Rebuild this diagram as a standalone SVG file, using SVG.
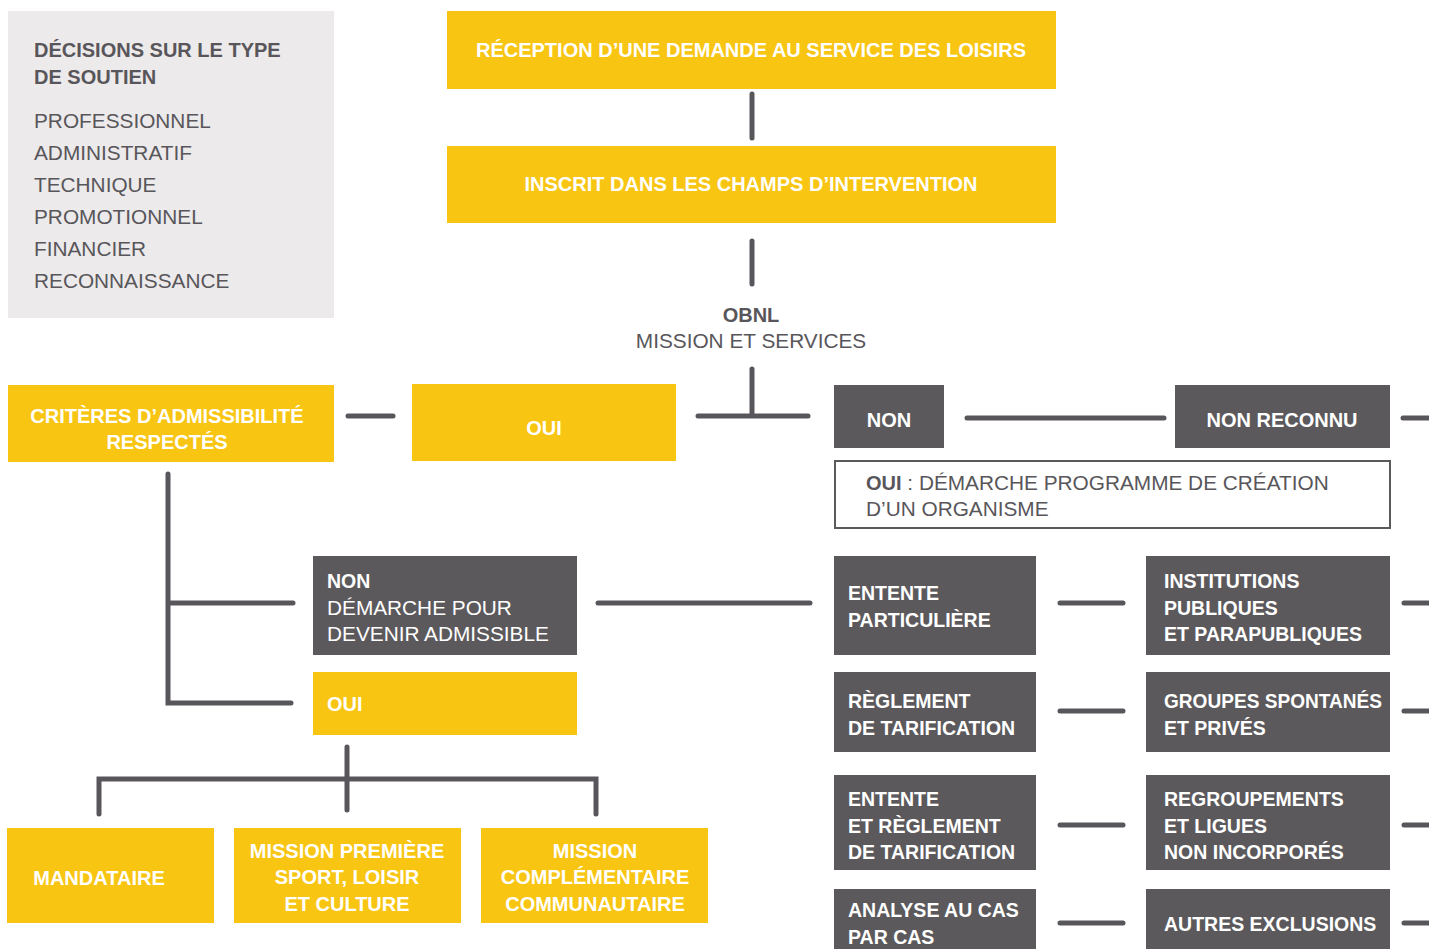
<svg xmlns="http://www.w3.org/2000/svg" width="1429" height="949" viewBox="0 0 1429 949">
<style>
text{font-family:"Liberation Sans",Arial,sans-serif;font-size:20.8px}
.y{fill:#F8C512}
.d{fill:#5B595C}
.w{fill:#fff;font-weight:bold;font-size:20px}
.dw{fill:#fff;font-weight:bold;font-size:19.5px}
.g{fill:#58565A}
.b{font-weight:bold;font-size:20px}
.c{text-anchor:middle}
.ln{stroke:#58565A;stroke-width:5;stroke-linecap:round;fill:none}
</style>
<rect width="1429" height="949" fill="#fff"/>
<g id="legend">
<rect x="8" y="11" width="326" height="307" fill="#ECEAEB"/>
<text class="g b" x="34" y="57">DÉCISIONS SUR LE TYPE</text>
<text class="g b" x="34" y="84">DE SOUTIEN</text>
<text class="g" x="34" y="128">PROFESSIONNEL</text>
<text class="g" x="34" y="160">ADMINISTRATIF</text>
<text class="g" x="34" y="192">TECHNIQUE</text>
<text class="g" x="34" y="224">PROMOTIONNEL</text>
<text class="g" x="34" y="256">FINANCIER</text>
<text class="g" x="34" y="288">RECONNAISSANCE</text>
</g>
<g id="connectors" class="ln">
<path d="M752 94V138"/>
<path d="M752 241V284"/>
<path d="M752 369V414M698 416H808"/>
<path d="M348 416H393"/>
<path d="M967 418H1164"/>
<path d="M1403 418H1429"/>
<path d="M168 474V703H291M168 603H293"/>
<path d="M598 603H810"/>
<path d="M347 747V810M99 814V779H596V814"/>
<path d="M1060 603H1123M1060 711H1123M1060 825H1123M1060 923H1123"/>
<path d="M1404 603H1429M1404 711H1429M1404 825H1429M1404 923H1429"/>
</g>
<g id="reception">
<rect class="y" x="447" y="11" width="609" height="78"/>
<text class="w c" x="751" y="57">RÉCEPTION D’UNE DEMANDE AU SERVICE DES LOISIRS</text>
</g>
<g id="inscrit">
<rect class="y" x="447" y="146" width="609" height="77"/>
<text class="w c" x="751" y="191">INSCRIT DANS LES CHAMPS D’INTERVENTION</text>
</g>
<g id="obnl">
<text class="g b c" x="751" y="322">OBNL</text>
<text class="g c" x="751" y="348">MISSION ET SERVICES</text>
</g>
<g id="oui1">
<rect class="y" x="412" y="384" width="264" height="77"/>
<text class="w c" x="544" y="435">OUI</text>
</g>
<g id="criteres">
<rect class="y" x="8" y="385" width="326" height="77"/>
<text class="w c" x="167" y="423">CRITÈRES D’ADMISSIBILITÉ</text>
<text class="w c" x="167" y="449">RESPECTÉS</text>
</g>
<g id="non1">
<rect class="d" x="834" y="385" width="110" height="63"/>
<text class="w c" x="889" y="427">NON</text>
</g>
<g id="nonreconnu">
<rect class="d" x="1175" y="385" width="215" height="63"/>
<text class="w c" x="1282" y="427">NON RECONNU</text>
</g>
<g id="creation">
<rect x="835" y="461" width="555" height="67" fill="#fff" stroke="#5B595C" stroke-width="2"/>
<text class="g" x="866" y="490"><tspan class="b">OUI</tspan> : DÉMARCHE PROGRAMME DE CRÉATION</text>
<text class="g" x="866" y="516">D’UN ORGANISME</text>
</g>
<g id="non2">
<rect class="d" x="313" y="556" width="264" height="99"/>
<text class="dw" x="327" y="588">NON</text>
<text fill="#fff" x="327" y="615">DÉMARCHE POUR</text>
<text fill="#fff" x="327" y="641">DEVENIR ADMISSIBLE</text>
</g>
<g id="oui2">
<rect class="y" x="313" y="672" width="264" height="63"/>
<text class="w" x="327" y="711">OUI</text>
</g>
<g id="mandataire">
<rect class="y" x="7" y="828" width="207" height="95"/>
<text class="w c" x="99" y="885">MANDATAIRE</text>
</g>
<g id="mission1">
<rect class="y" x="234" y="828" width="227" height="95"/>
<text class="w c" x="347" y="858">MISSION PREMIÈRE</text>
<text class="w c" x="347" y="884">SPORT, LOISIR</text>
<text class="w c" x="347" y="911">ET CULTURE</text>
</g>
<g id="mission2">
<rect class="y" x="481" y="828" width="227" height="95"/>
<text class="w c" x="595" y="858">MISSION</text>
<text class="w c" x="595" y="884">COMPLÉMENTAIRE</text>
<text class="w c" x="595" y="911">COMMUNAUTAIRE</text>
</g>
<g id="entente">
<rect class="d" x="834" y="556" width="202" height="99"/>
<text class="dw" x="848" y="600">ENTENTE</text>
<text class="dw" x="848" y="627">PARTICULIÈRE</text>
</g>
<g id="reglement">
<rect class="d" x="834" y="672" width="202" height="80"/>
<text class="dw" x="848" y="708">RÈGLEMENT</text>
<text class="dw" x="848" y="735">DE TARIFICATION</text>
</g>
<g id="entente-reglement">
<rect class="d" x="834" y="775" width="202" height="95"/>
<text class="dw" x="848" y="806">ENTENTE</text>
<text class="dw" x="848" y="833">ET RÈGLEMENT</text>
<text class="dw" x="848" y="859">DE TARIFICATION</text>
</g>
<g id="analyse">
<rect class="d" x="834" y="889" width="202" height="60"/>
<text class="dw" x="848" y="917">ANALYSE AU CAS</text>
<text class="dw" x="848" y="944">PAR CAS</text>
</g>
<g id="institutions">
<rect class="d" x="1146" y="556" width="244" height="99"/>
<text class="dw" x="1164" y="588">INSTITUTIONS</text>
<text class="dw" x="1164" y="615">PUBLIQUES</text>
<text class="dw" x="1164" y="641">ET PARAPUBLIQUES</text>
</g>
<g id="groupes">
<rect class="d" x="1146" y="672" width="244" height="80"/>
<text class="dw" x="1164" y="708" textLength="218" lengthAdjust="spacingAndGlyphs">GROUPES SPONTANÉS</text>
<text class="dw" x="1164" y="735">ET PRIVÉS</text>
</g>
<g id="regroupements">
<rect class="d" x="1146" y="775" width="244" height="95"/>
<text class="dw" x="1164" y="806">REGROUPEMENTS</text>
<text class="dw" x="1164" y="833">ET LIGUES</text>
<text class="dw" x="1164" y="859">NON INCORPORÉS</text>
</g>
<g id="exclusions">
<rect class="d" x="1146" y="889" width="244" height="60"/>
<text class="dw" x="1164" y="931">AUTRES EXCLUSIONS</text>
</g>
</svg>
